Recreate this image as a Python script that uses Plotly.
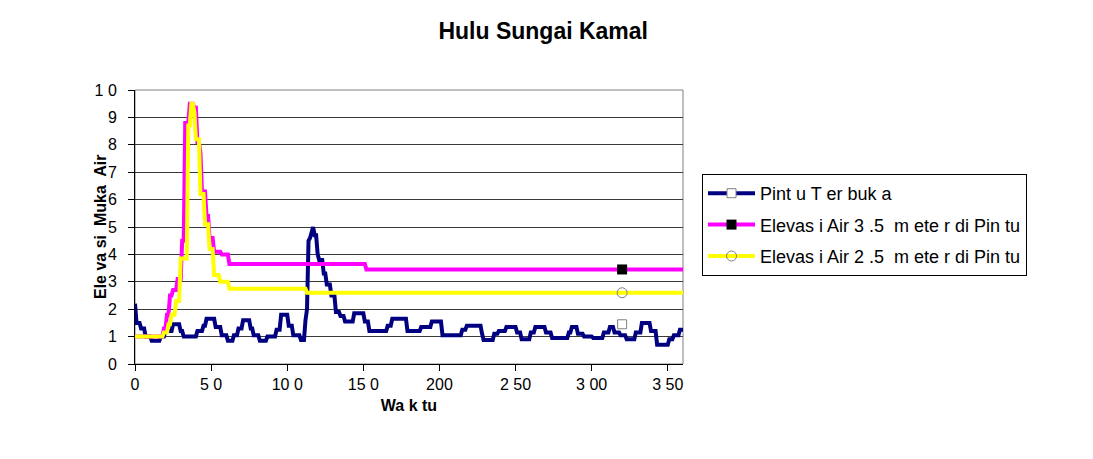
import numpy as np
import plotly.graph_objects as go

# ---- data (run-length form: value, number of steps) ----
navy_vals = [2.2, 1.5, 1.3, 1.0, 0.85, 1.0, 1.2, 1.45, 1.2, 1.0, 1.2, 1.4, 1.65, 1.35, 1.05, 0.85,
             1.05, 1.3, 1.6, 1.3, 1.05, 0.85, 1.0, 1.25, 1.8, 1.4, 1.05, 0.88, 1.6, 2.0, 4.5, 4.6,
             4.8, 5.0, 4.7, 4.0, 3.8, 3.3, 2.9, 2.5, 1.9, 1.75, 1.55, 1.85, 1.55, 1.2, 1.4, 1.65,
             1.2, 1.35, 1.55, 1.05, 1.25, 1.4, 1.1, 0.88, 1.1, 1.2, 1.35, 1.15, 0.9, 1.15, 1.35,
             1.15, 0.95, 1.15, 1.35, 1.1, 1.0, 0.95, 1.15, 1.35, 1.15, 1.05, 0.9, 1.15, 1.5, 1.2,
             0.7, 0.9, 1.05, 1.25]
navy_runs = [1, 3, 3, 4, 6, 3, 5, 5, 2, 9, 4, 2, 6, 4, 4, 4,
             3, 3, 5, 2, 4, 5, 6, 3, 5, 3, 5, 3, 1, 1, 1, 1,
             1, 1, 2, 1, 3, 2, 3, 3, 3, 3, 6, 7, 3, 12, 3, 10,
             9, 7, 7, 13, 3, 10, 1, 7, 3, 5, 7, 3, 6, 3, 7,
             4, 11, 2, 4, 4, 6, 7, 4, 3, 4, 4, 6, 4, 6, 4,
             8, 3, 4, 3]

magenta_vals = [1.0, 1.3, 1.8, 2.5, 2.7, 3.1, 4.5, 8.8, 9.5, 9.35, 8.1, 7.7, 6.3, 5.4, 4.6, 4.1,
                4.0, 3.65, 3.45]
magenta_runs = [19, 2, 2, 2, 3, 3, 2, 3, 3, 2, 2, 1, 3, 2, 3, 5, 5, 90, 209]

yellow_vals = [1.0, 1.15, 1.45, 1.8, 2.3, 3.85, 8.7, 9.5, 9.2, 8.2, 6.2, 5.1, 4.2, 3.25, 3.0,
               2.75, 2.6]
yellow_runs = [19, 3, 2, 3, 3, 5, 2, 2, 1, 3, 3, 3, 3, 4, 6, 51, 248]

series_names = ["Pint u T er buk a",
                "Elevas i Air 3 .5  m ete r di Pin tu",
                "Elevas i Air 2 .5  m ete r di Pin tu"]
marker_x = [320, 320, 320]
marker_y = [1.45, 3.45, 2.6]

x_tickvals = [0, 50, 100, 150, 200, 250, 300, 350]
x_ticktext = ["0", "5 0", "10 0", "15 0", "200", "2 50", "3 00", "3 50"]
y_tickvals = list(range(11))
y_ticktext = ["0", "1", "2", "3", "4", "5", "6", "7", "8", "9", "1 0"]


def expand(vals, runs):
    return np.repeat(np.array(vals, dtype=float), np.array(runs))


navy = expand(navy_vals, navy_runs)
magenta = expand(magenta_vals, magenta_runs)
yellow = expand(yellow_vals, yellow_runs)
x = np.arange(len(navy))

FONT = "Arial, Liberation Sans, sans-serif"
colors = ["#000080", "#FF00FF", "#FFFF00"]
markers = [
    dict(symbol="square", size=9, color="white", line=dict(color="#808080", width=1)),
    dict(symbol="square", size=10, color="black", line=dict(color="black", width=0)),
    dict(symbol="circle", size=10, color="rgba(0,0,0,0)", line=dict(color="#808080", width=1)),
]

fig = go.Figure()
for ys, c in zip([navy, magenta, yellow], colors):
    fig.add_trace(go.Scatter(x=x, y=ys, mode="lines", line=dict(color=c, width=4),
                             showlegend=False, hoverinfo="skip"))

for i in range(3):
    fig.add_trace(go.Scatter(x=[marker_x[i]], y=[marker_y[i]], mode="lines+markers",
                             name=series_names[i], legendgroup=str(i),
                             line=dict(color=colors[i], width=4), marker=markers[i]))

fig.update_layout(
    width=1093, height=459,
    margin=dict(l=135, r=410, t=90, b=95),
    paper_bgcolor="white", plot_bgcolor="white",
    font=dict(family=FONT, size=16, color="black"),
    title=dict(text="<b>Hulu Sungai Kamal</b>", x=0.497, xanchor="center",
               y=1 - 31 / 459, yanchor="middle", yref="container",
               font=dict(family=FONT, size=23, color="black")),
    xaxis=dict(range=[0, 360], tickvals=x_tickvals, ticktext=x_ticktext,
               showgrid=False, zeroline=False, showline=True, linecolor="black", linewidth=1,
               ticks="outside", ticklen=6, tickcolor="black",
               tickfont=dict(family=FONT, size=16),
               title=dict(text="<b>Wa k tu</b>", font=dict(family=FONT, size=16), standoff=7)),
    yaxis=dict(range=[0, 10], tickvals=y_tickvals, ticktext=y_ticktext,
               showgrid=True, gridcolor="#3a3a3a", gridwidth=1, zeroline=False,
               showline=True, linecolor="black", linewidth=1,
               ticks="outside", ticklen=6, tickcolor="black", ticklabelstandoff=8,
               tickfont=dict(family=FONT, size=16)),
    legend=dict(x=(702 - 135) / 548, y=(364 - 174) / 274, xanchor="left", yanchor="top",
                bordercolor="black", borderwidth=1, bgcolor="white",
                font=dict(family=FONT, size=18), traceorder="grouped", tracegroupgap=5,
                itemwidth=47),
    shapes=[dict(type="rect", xref="paper", yref="paper", x0=0, y0=0, x1=1, y1=1,
                 line=dict(color="#808080", width=1), layer="below")],
    annotations=[dict(text="<b>Ele va si  Muka  Air</b>", textangle=-90, showarrow=False,
                      xref="paper", yref="paper", x=(100 - 135) / 548, y=0.5,
                      xanchor="center", yanchor="middle",
                      font=dict(family=FONT, size=16, color="black"))],
)

fig.write_html("out.html")
